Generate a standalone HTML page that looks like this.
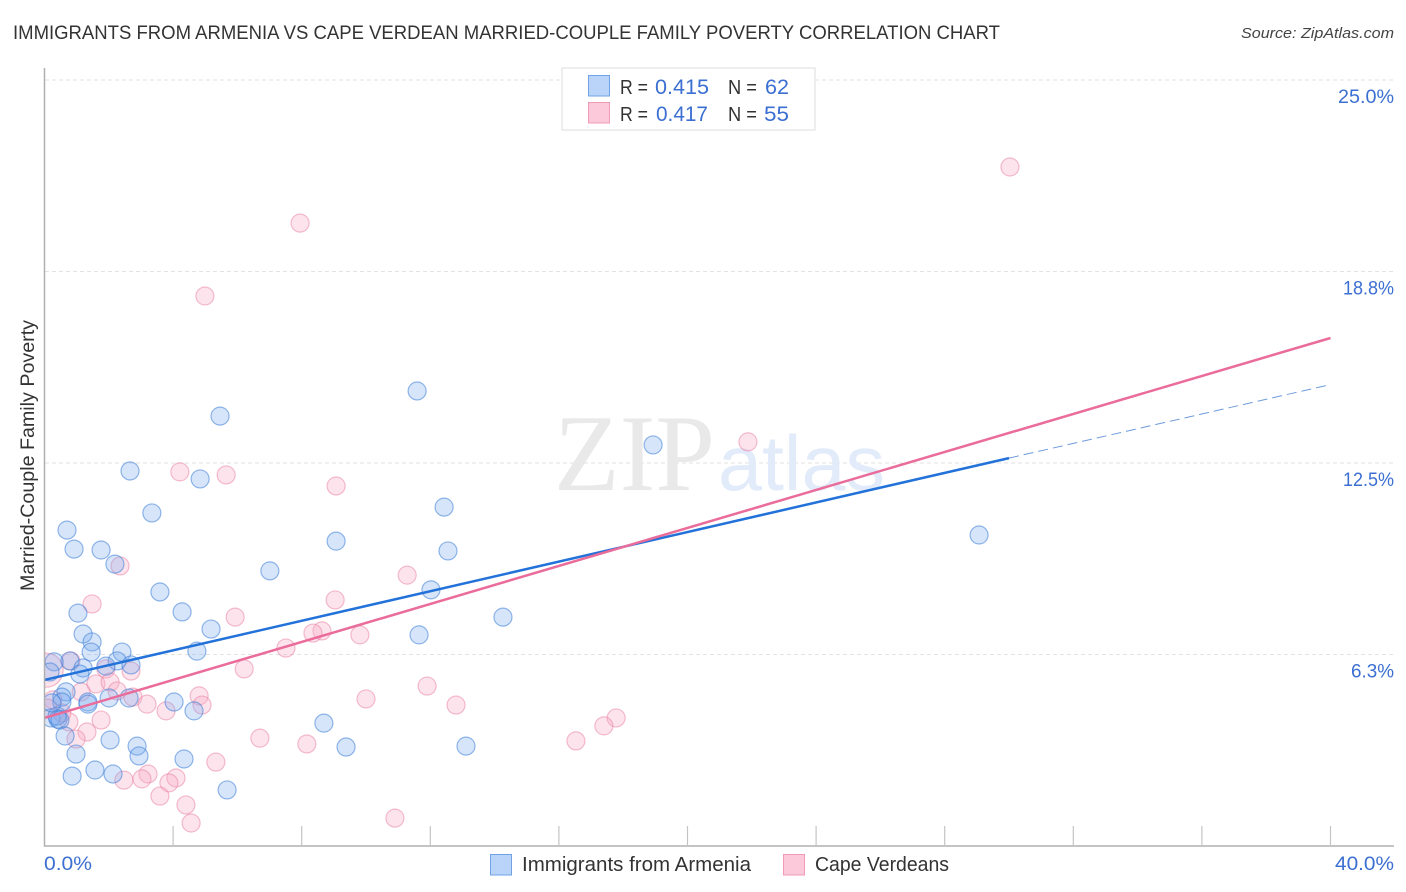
<!DOCTYPE html>
<html lang="en">
<head>
<meta charset="utf-8">
<title>Immigrants from Armenia vs Cape Verdean Married-Couple Family Poverty Correlation Chart</title>
<style>
html,body{margin:0;padding:0;background:#fff;width:1406px;height:892px;overflow:hidden}
svg{display:block;font-family:"Liberation Sans",sans-serif}
</style>
</head>
<body>
<svg id="chart" xmlns="http://www.w3.org/2000/svg" width="1406" height="892" viewBox="0 0 1406 892">
  <defs>
    <clipPath id="plot-clip"><rect x="45" y="60" width="1349" height="786"/></clipPath>
  </defs>
  <text x="13" y="39" font-size="19" fill="#333" textLength="987" lengthAdjust="spacingAndGlyphs">IMMIGRANTS FROM ARMENIA VS CAPE VERDEAN MARRIED-COUPLE FAMILY POVERTY CORRELATION CHART</text>
  <text x="1241" y="38" font-size="15" font-style="italic" fill="#444" textLength="153" lengthAdjust="spacingAndGlyphs">Source: ZipAtlas.com</text>

  <g id="grid"></g>

  <text x="554" y="490" font-family="'Liberation Serif',serif" font-size="109" fill="#e9e9e9" textLength="161" lengthAdjust="spacingAndGlyphs">ZIP</text>
  <text x="718" y="490" font-size="78" fill="#e2ebfa" textLength="167" lengthAdjust="spacingAndGlyphs">atlas</text>

  <g id="points" clip-path="url(#plot-clip)"></g>
  <g id="trends"></g>

  <line x1="44.5" y1="68" x2="44.5" y2="846.5" stroke="#b0b0b0" stroke-width="1.5"/>
  <line x1="44" y1="846" x2="1394" y2="846" stroke="#b0b0b0" stroke-width="1.5"/>
  <g id="xticks"></g>
  <g id="ylabels"></g>

  <text x="44" y="870" font-size="19" fill="#3b6fd1" textLength="48" lengthAdjust="spacingAndGlyphs">0.0%</text>
  <text x="1335" y="870" font-size="19" fill="#3b6fd1" textLength="59" lengthAdjust="spacingAndGlyphs">40.0%</text>
  <text transform="translate(34,591) rotate(-90)" font-size="19" fill="#333" textLength="271" lengthAdjust="spacingAndGlyphs">Married-Couple Family Poverty</text>

  <g>
    <rect x="562" y="68" width="253" height="62" fill="#fff" stroke="#ddd" stroke-width="1"/>
    <rect x="588.5" y="75.5" width="21" height="20.5" fill="#b9d4f8" stroke="#6fa3e6" stroke-width="1"/>
    <rect x="588.5" y="102.5" width="21" height="20.5" fill="#fcc9da" stroke="#f09ab6" stroke-width="1"/>
    <text x="620" y="94" font-size="20" fill="#333" textLength="28" lengthAdjust="spacingAndGlyphs">R =</text>
    <text x="655" y="94" font-size="21" fill="#3b6fd1" textLength="54" lengthAdjust="spacingAndGlyphs">0.415</text>
    <text x="728" y="94" font-size="20" fill="#333" textLength="29" lengthAdjust="spacingAndGlyphs">N =</text>
    <text x="765" y="94" font-size="21" fill="#3b6fd1" textLength="24" lengthAdjust="spacingAndGlyphs">62</text>
    <text x="620" y="121" font-size="20" fill="#333" textLength="28" lengthAdjust="spacingAndGlyphs">R =</text>
    <text x="656" y="121" font-size="21" fill="#3b6fd1" textLength="52" lengthAdjust="spacingAndGlyphs">0.417</text>
    <text x="728" y="121" font-size="20" fill="#333" textLength="29" lengthAdjust="spacingAndGlyphs">N =</text>
    <text x="764" y="121" font-size="21" fill="#3b6fd1" textLength="25" lengthAdjust="spacingAndGlyphs">55</text>
  </g>

  <g>
    <rect x="490.5" y="854.5" width="21" height="20.5" fill="#b9d4f8" stroke="#6fa3e6" stroke-width="1"/>
    <text x="522" y="871" font-size="20" fill="#333" textLength="229" lengthAdjust="spacingAndGlyphs">Immigrants from Armenia</text>
  </g>
  <g>
    <rect x="783.5" y="854.5" width="21" height="20.5" fill="#fcc9da" stroke="#f09ab6" stroke-width="1"/>
    <text x="815" y="871" font-size="20" fill="#333" textLength="134" lengthAdjust="spacingAndGlyphs">Cape Verdeans</text>
  </g>
</svg>
<script>
const yTickValues = [6.25, 12.5, 18.75, 25];
const yTickLabels = ["6.3%", "12.5%", "18.8%", "25.0%"];
const xTickValues = [4, 8, 12, 16, 20, 24, 28, 32, 36, 40];

const armeniaX = [11.59,5.46,18.93,2.66,4.84,12.43,3.34,0.70,29.07,9.07,0.92,1.76,12.55,2.19,7.01,12.02,3.59,1.04,4.28,14.26,5.18,1.20,11.65,1.48,1.45,4.74,2.41,2.26,2.69,1.91,0.79,0.30,1.20,1.10,0.17,0.67,0.54,0.54,1.35,1.35,2.01,2.63,4.03,4.65,0.20,0.42,0.39,0.48,0.23,8.69,0.64,2.04,2.88,9.38,13.11,2.94,0.98,4.34,1.57,2.13,0.86,5.68];
const armeniaY = [14.85,14.03,13.09,12.24,11.98,11.06,10.87,10.31,10.15,9.95,9.69,9.66,9.63,9.20,8.98,8.36,8.29,7.60,7.64,7.47,7.08,6.92,6.89,6.66,6.33,6.36,6.33,6.04,5.91,5.87,6.04,6.01,5.81,5.61,5.68,5.03,4.86,4.70,4.70,4.63,4.83,4.83,4.70,4.41,4.18,4.14,4.24,4.11,4.67,4.01,3.59,3.46,3.26,3.23,3.26,2.94,3.00,2.84,2.48,2.35,2.28,1.83];

const capeX = [30.03,7.95,4.99,21.88,4.21,5.65,9.07,11.28,2.35,1.48,9.04,5.93,8.63,8.35,9.81,7.51,6.21,2.69,1.91,0.82,0.05,1.60,2.04,1.14,2.26,2.75,3.19,3.78,4.81,4.90,1.76,1.32,0.98,0.76,0.54,0.26,6.70,8.16,5.33,3.22,3.03,2.47,4.09,3.87,3.59,4.40,4.56,10.00,11.90,12.80,17.78,17.40,16.53,10.90,0.10];
const capeY = [22.16,20.33,17.95,13.19,12.21,12.11,11.75,8.84,9.14,7.90,8.03,7.47,7.02,6.95,6.89,6.46,5.78,5.71,5.78,6.04,5.74,5.29,5.35,5.03,5.06,4.86,4.63,4.41,4.90,4.60,4.11,3.72,3.49,4.05,4.34,4.77,3.52,3.33,2.74,2.35,2.19,2.15,2.22,2.06,1.63,1.34,0.75,4.80,5.22,4.60,4.18,3.92,3.43,0.91,4.50];
const capeClusterWeight = [1,1,1,1,1,1,1,1,1,1,1,1,1,1,1,1,1,1,1,1,3.6,1,1,1,1,1,1,1,1,1,1,1,1,1,1,1,1,1,1,1,1,1,1,1,1,1,1,1,1,1,1,1,1,1,1];

const armeniaTrendX = [0, 30];
const armeniaTrendY = [5.42, 12.66];
const armeniaForecastX = [30, 40];
const armeniaForecastY = [12.66, 15.06];
const capeTrendX = [0, 40];
const capeTrendY = [4.18, 16.58];

const NS = "http://www.w3.org/2000/svg";
const xScale = v => 44.5 + v * 32.15;
const yScale = v => 846 - v * 30.64;
const labelWidth = s => s.length < 5 ? 43 : (s[0] === "1" ? 51 : 56);

const grid = document.getElementById("grid");
const ylabels = document.getElementById("ylabels");
yTickValues.forEach((v, i) => {
  const g = document.createElementNS(NS, "line");
  
  
  g.setAttribute("x1", 45);
  g.setAttribute("x2", 1394);
  g.setAttribute("y1", yScale(v));
  g.setAttribute("y2", yScale(v));
  g.setAttribute("stroke", "#e2e2e2");
  g.setAttribute("stroke-width", "1");
  g.setAttribute("stroke-dasharray", "4 3");
  grid.appendChild(g);
  const t = document.createElementNS(NS, "text");
  
  
  t.setAttribute("x", 1394);
  t.setAttribute("y", yScale(v) + 23);
  t.setAttribute("text-anchor", "end");
  t.setAttribute("font-size", "19");
  t.setAttribute("fill", "#3b6fd1");
  t.setAttribute("textLength", labelWidth(yTickLabels[i]));
  t.setAttribute("lengthAdjust", "spacingAndGlyphs");
  t.textContent = yTickLabels[i];
  ylabels.appendChild(t);
});

const xticks = document.getElementById("xticks");
xTickValues.forEach(v => {
  const l = document.createElementNS(NS, "line");
  
  
  l.setAttribute("x1", xScale(v));
  l.setAttribute("x2", xScale(v));
  l.setAttribute("y1", 826);
  l.setAttribute("y2", 846);
  l.setAttribute("stroke", "#c4c4c4");
  l.setAttribute("stroke-width", "1.2");
  xticks.appendChild(l);
});

const points = document.getElementById("points");
capeX.forEach((x, i) => {
  const c = document.createElementNS(NS, "circle");
  
  
  c.setAttribute("cx", xScale(x));
  c.setAttribute("cy", yScale(capeY[i]));
  c.setAttribute("r", 9 * Math.sqrt(capeClusterWeight[i]));
  c.setAttribute("fill", "rgba(248,170,195,0.32)");
  c.setAttribute("stroke", "rgba(232,125,160,0.5)");
  c.setAttribute("stroke-width", "1.2");
  points.appendChild(c);
});
armeniaX.forEach((x, i) => {
  const c = document.createElementNS(NS, "circle");
  
  
  c.setAttribute("cx", xScale(x));
  c.setAttribute("cy", yScale(armeniaY[i]));
  c.setAttribute("r", 9);
  c.setAttribute("fill", "rgba(120,170,240,0.3)");
  c.setAttribute("stroke", "rgba(60,125,215,0.55)");
  c.setAttribute("stroke-width", "1.2");
  points.appendChild(c);
});

const trends = document.getElementById("trends");

const armeniaLine = document.createElementNS(NS, "line");


armeniaLine.setAttribute("x1", xScale(armeniaTrendX[0]));
armeniaLine.setAttribute("y1", yScale(armeniaTrendY[0]));
armeniaLine.setAttribute("x2", xScale(armeniaTrendX[1]));
armeniaLine.setAttribute("y2", yScale(armeniaTrendY[1]));
armeniaLine.setAttribute("stroke", "#2272d9");
armeniaLine.setAttribute("stroke-width", "2.5");
trends.appendChild(armeniaLine);

const armeniaForecast = document.createElementNS(NS, "line");


armeniaForecast.setAttribute("x1", xScale(armeniaForecastX[0]));
armeniaForecast.setAttribute("y1", yScale(armeniaForecastY[0]));
armeniaForecast.setAttribute("x2", xScale(armeniaForecastX[1]));
armeniaForecast.setAttribute("y2", yScale(armeniaForecastY[1]));
armeniaForecast.setAttribute("stroke", "#6f9bdc");
armeniaForecast.setAttribute("stroke-width", "1");
armeniaForecast.setAttribute("stroke-dasharray", "10 5");
trends.appendChild(armeniaForecast);

const capeLine = document.createElementNS(NS, "line");


capeLine.setAttribute("x1", xScale(capeTrendX[0]));
capeLine.setAttribute("y1", yScale(capeTrendY[0]));
capeLine.setAttribute("x2", xScale(capeTrendX[1]));
capeLine.setAttribute("y2", yScale(capeTrendY[1]));
capeLine.setAttribute("stroke", "#ea6c9a");
capeLine.setAttribute("stroke-width", "2.5");
trends.appendChild(capeLine);
</script>
</body>
</html>
